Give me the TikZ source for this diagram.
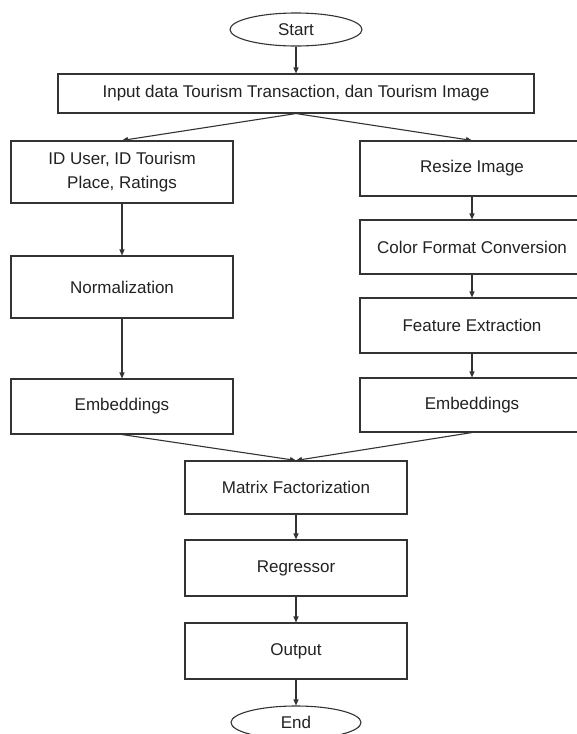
\documentclass[tikz,border=0pt]{standalone}
\usepackage{fontspec}
\setmainfont{Liberation Sans}
\usetikzlibrary{shapes.geometric,arrows.meta}
\definecolor{ln}{HTML}{333333}
\definecolor{tx}{HTML}{222222}
\begin{document}
\begin{tikzpicture}[x=1pt,y=-1pt,
  box/.style={draw=ln,line width=1.1pt,rectangle,inner sep=0pt,align=center,
    font=\fontsize{17}{23.5}\selectfont,text=tx},
  term/.style={draw=ln,line width=1.1pt,ellipse,inner sep=0pt,
    font=\fontsize{17}{23.5}\selectfont,text=tx},
  arr/.style={draw=ln,line width=1.1pt,-{Triangle[length=6pt,width=5pt]}}]
\useasboundingbox[fill=white] (0,0) rectangle (577,734);
\node[term,minimum width=132pt,minimum height=33pt] (start) at (296,29.5) {Start};
\node[box,minimum width=476pt,minimum height=39pt] (input) at (296,93.5) {Input data Tourism Transaction, dan Tourism Image};
\node[box,minimum width=222pt,minimum height=62pt] (id) at (122,172) {ID User, ID Tourism\\Place, Ratings};
\node[box,minimum width=222pt,minimum height=62pt] (norm) at (122,287) {Normalization};
\node[box,minimum width=222pt,minimum height=55pt] (embL) at (122,406.5) {Embeddings};
\node[box,minimum width=224pt,minimum height=55pt] (resize) at (472,168.5) {Resize Image};
\node[box,minimum width=224pt,minimum height=54pt] (color) at (472,247) {Color Format Conversion};
\node[box,minimum width=224pt,minimum height=55pt] (feat) at (472,325.5) {Feature Extraction};
\node[box,minimum width=224pt,minimum height=54pt] (embR) at (472,405) {Embeddings};
\node[box,minimum width=222pt,minimum height=53pt] (mf) at (296,487.5) {Matrix Factorization};
\node[box,minimum width=222pt,minimum height=56pt] (reg) at (296,568) {Regressor};
\node[box,minimum width=222pt,minimum height=56pt] (out) at (296,651) {Output};
\node[term,minimum width=130pt,minimum height=33pt] (end) at (296,722.5) {End};
\draw[arr] (start) -- (input);
\draw[arr] (input.south) -- (id.north);
\draw[arr] (input.south) -- (resize.north);
\draw[arr] (id) -- (norm);
\draw[arr] (norm) -- (embL);
\draw[arr] (resize) -- (color);
\draw[arr] (color) -- (feat);
\draw[arr] (feat) -- (embR);
\draw[arr] (embL.south) -- (mf.north);
\draw[arr] (embR.south) -- (mf.north);
\draw[arr] (mf) -- (reg);
\draw[arr] (reg) -- (out);
\draw[arr] (out) -- (end);
\end{tikzpicture}
\end{document}
